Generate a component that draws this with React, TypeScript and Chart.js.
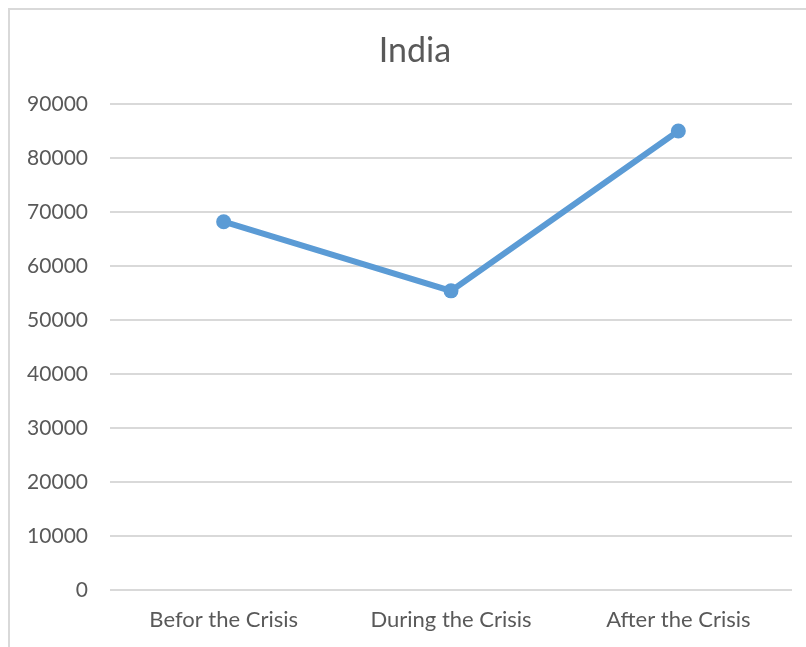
import React, { useEffect, useRef } from "react";
import { Chart, registerables } from "chart.js";

Chart.register(...registerables);

const categories = ["Befor the Crisis", "During the Crisis", "After the Crisis"];
const values = [68200, 55400, 85000];
const chartTitle = "India";

const titlePlugin = {
  id: "customTitle",
  afterDraw(chart: any) {
    const ctx = chart.ctx;
    ctx.save();
    ctx.fillStyle = "#595959";
    ctx.font = "normal 34px Lato";
    ctx.textAlign = "center";
    ctx.textBaseline = "middle";
    ctx.fillText(chartTitle, 415, 51);
    ctx.restore();
  },
};

export default function App() {
  const ref = useRef<HTMLCanvasElement | null>(null);
  useEffect(() => {
    if (!ref.current) return;
    const chart = new Chart(ref.current, {
      type: "line",
      data: {
        labels: categories,
        datasets: [
          {
            data: values,
            borderColor: "#5B9BD5",
            backgroundColor: "#5B9BD5",
            borderWidth: 6,
            pointRadius: 7.5,
            pointHoverRadius: 7.5,
            pointBackgroundColor: "#5B9BD5",
            pointBorderColor: "#5B9BD5",
            pointBorderWidth: 0,
            tension: 0,
          },
        ],
      },
      options: {
        responsive: false,
        animation: false,
        layout: { padding: { left: 0, right: 14, top: 104, bottom: 0 } },
        plugins: {
          legend: { display: false },
          tooltip: { enabled: false },
          title: { display: false },
        },
        scales: {
          x: {
            offset: true,
            grid: { display: false, drawTicks: false },
            border: { display: false },
            ticks: {
              color: "#595959",
              font: { family: "Lato", size: 22 },
              padding: 17,
              maxRotation: 0,
            },
            afterFit: (s: any) => {
              s.height = 57;
            },
          },
          y: {
            min: 0,
            max: 90000,
            ticks: {
              stepSize: 10000,
              color: "#595959",
              font: { family: "Lato", size: 21 },
              padding: 22,
              callback: (v: any) => String(v),
            },
            grid: { color: "#d9d9d9", lineWidth: 2, drawTicks: false },
            border: { display: false },
            afterFit: (s: any) => {
              s.width = 110;
            },
          },
        },
      },
      plugins: [titlePlugin],
    });
    return () => chart.destroy();
  }, []);
  return (
    <div style={{ position: "fixed", left: 0, top: 0, width: 806, height: 647, background: "#fff", overflow: "hidden" }}>
      <div
        style={{
          position: "absolute",
          left: 8,
          top: 8,
          width: 820,
          height: 660,
          border: "2px solid #d9d9d9",
          boxSizing: "border-box",
        }}
      />
      <canvas ref={ref} width={806} height={647} style={{ position: "absolute", left: 0, top: 0 }} />
    </div>
  );
}
